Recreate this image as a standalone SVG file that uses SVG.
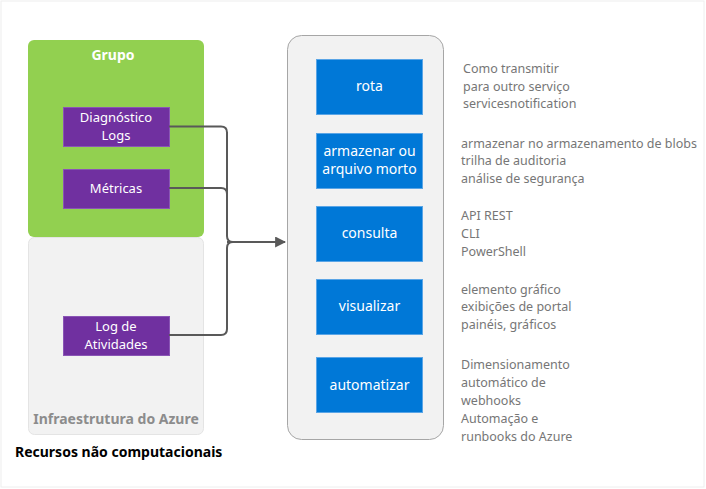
<svg xmlns="http://www.w3.org/2000/svg" width="706" height="489" viewBox="0 0 706 489">
<style>
text{font-family:"Noto Sans","Open Sans","DejaVu Sans",sans-serif}
.wl{fill:#fff;font-size:13px;text-anchor:middle}
.bl{fill:#fff;font-size:14px;text-anchor:middle}
.ds{fill:#767676;font-size:12.5px}
.pb{fill:#7030a0;stroke:#8a55b5;stroke-width:1}
.bb{fill:#0078d7;stroke:#5aa5e6;stroke-width:1}
.cn{fill:none;stroke:#595959;stroke-width:2}
</style>
<defs>
<marker id="ah" viewBox="0 0 10 10" refX="9" refY="5" markerWidth="5.5" markerHeight="5.5" orient="auto" markerUnits="strokeWidth">
<path d="M0,0 L10,5 L0,10 z" fill="#595959"/>
</marker>
</defs>
<rect x="1" y="1" width="703" height="486" fill="#fff" stroke="#eeeeee" stroke-width="1"/>
<g id="grupo">
<rect x="28" y="40" width="176" height="197" rx="6" fill="#92d050"/>
<text x="113" y="60" class="bl" font-weight="bold">Grupo</text>
</g>
<g id="infra">
<rect x="28.5" y="237.5" width="175" height="197" rx="6" fill="#f2f2f2" stroke="#e4e4e4"/>
<text x="116" y="424" font-size="14" font-weight="bold" fill="#8c8c8c" text-anchor="middle">Infraestrutura do Azure</text>
</g>
<g id="diag">
<rect class="pb" x="63.5" y="107.5" width="106" height="39"/>
<text class="wl" x="116" y="122">Diagnóstico</text>
<text class="wl" x="116" y="140">Logs</text>
</g>
<g id="metricas">
<rect class="pb" x="63.5" y="169.5" width="106" height="39"/>
<text class="wl" x="116" y="193">Métricas</text>
</g>
<g id="atividades">
<rect class="pb" x="63.5" y="316.5" width="106" height="39"/>
<text class="wl" x="116" y="331">Log de</text>
<text class="wl" x="116" y="349">Atividades</text>
</g>
<g id="connectors">
<path class="cn" d="M169,126.5 H221 Q227,126.5 227,132.5 V236 Q227,242 233,242"/>
<path class="cn" d="M169,188 H221 Q227,188 227,194 V236"/>
<path class="cn" d="M169,335 H221 Q227,335 227,329 V248 Q227,242 233,242"/>
<path class="cn" d="M227,242 H285" marker-end="url(#ah)"/>
</g>
<g id="acoes">
<rect x="287.5" y="35.5" width="156" height="404" rx="14" fill="#f2f2f2" stroke="#a6a6a6" stroke-width="1"/>
</g>
<g id="rota">
<rect class="bb" x="316.5" y="59.5" width="106" height="55"/>
<text class="bl" x="369.5" y="91">rota</text>
</g>
<g id="armazenar">
<rect class="bb" x="316.5" y="133.5" width="106" height="55"/>
<text class="bl" x="369.5" y="156">armazenar ou</text>
<text class="bl" x="369.5" y="174">arquivo morto</text>
</g>
<g id="consulta">
<rect class="bb" x="316.5" y="206.5" width="106" height="55"/>
<text class="bl" x="369.5" y="238">consulta</text>
</g>
<g id="visualizar">
<rect class="bb" x="316.5" y="279.5" width="106" height="55"/>
<text class="bl" x="369.5" y="311">visualizar</text>
</g>
<g id="automatizar">
<rect class="bb" x="316.5" y="357.5" width="106" height="55"/>
<text class="bl" x="369.5" y="390">automatizar</text>
</g>
<g id="descricoes">
<text class="ds" x="463" y="73">Como transmitir</text>
<text class="ds" x="463" y="91">para outro serviço</text>
<text class="ds" x="463" y="108">servicesnotification</text>
<text class="ds" x="461" y="148">armazenar no armazenamento de blobs</text>
<text class="ds" x="461" y="165">trilha de auditoria</text>
<text class="ds" x="461" y="183">análise de segurança</text>
<text class="ds" x="461" y="220">API REST</text>
<text class="ds" x="461" y="238">CLI</text>
<text class="ds" x="461" y="256">PowerShell</text>
<text class="ds" x="461" y="294">elemento gráfico</text>
<text class="ds" x="461" y="311">exibições de portal</text>
<text class="ds" x="461" y="329">painéis, gráficos</text>
<text class="ds" x="461" y="369">Dimensionamento</text>
<text class="ds" x="461" y="387">automático de</text>
<text class="ds" x="461" y="405">webhooks</text>
<text class="ds" x="461" y="423">Automação e</text>
<text class="ds" x="461" y="441">runbooks do Azure</text>
</g>
<text x="15" y="457" font-size="14" font-weight="bold" fill="#000">Recursos não computacionais</text>
</svg>
